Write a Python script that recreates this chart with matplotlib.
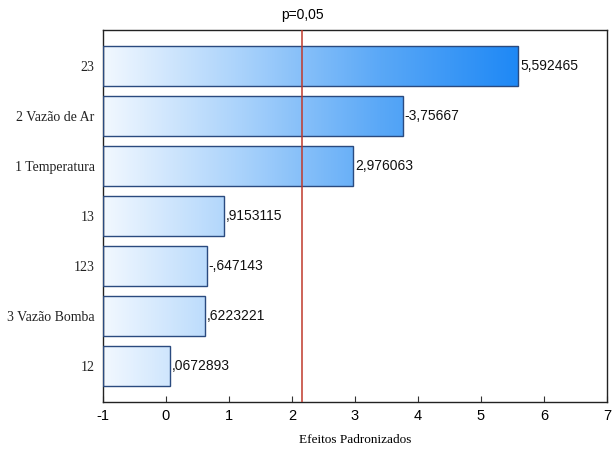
import matplotlib
matplotlib.use("Agg")
import matplotlib.pyplot as plt
import numpy as np
from matplotlib.colors import LinearSegmentedColormap
from matplotlib.patches import Rectangle

categories = ["23", "2 Vazão de Ar", "1 Temperatura", "13", "123", "3 Vazão Bomba", "12"]
effects = [5.592465, -3.75667, 2.976063, 0.9153115, -0.647143, 0.6223221, 0.0672893]
labels = ["5,592465", "-3,75667", "2,976063", ",9153115", "-,647143", ",6223221", ",0672893"]
p_crit = 2.16
xticks = [-1, 0, 1, 2, 3, 4, 5, 6, 7]

fig = plt.figure(figsize=(6.14, 4.5), dpi=100)
ax = fig.add_axes([103/614, 1-402/450, (607-103)/614, (402-30)/450])

xmin, xmax = -1, 7
n = len(categories)
ypos = np.arange(n)[::-1]
cmap = LinearSegmentedColormap.from_list("g", ["#f2f8ff", "#a9d2fb", "#5aa8f7", "#1e88f5"])
grad = np.linspace(0, 1, 256).reshape(1, -1)
gx1 = 5.6

for y, e, lab in zip(ypos, effects, labels):
    w = abs(e)
    h = 0.8
    rect = Rectangle((xmin, y - h/2), w - xmin, h, facecolor="none",
                     edgecolor="#2a4a7f", linewidth=1.0, zorder=3)
    ax.add_patch(rect)
    im = ax.imshow(grad, extent=(xmin, gx1, y - h/2, y + h/2), aspect="auto",
                   cmap=cmap, origin="lower", zorder=2, interpolation="bicubic")
    im.set_clip_path(rect)
    ax.text(w + 0.03, y, lab, va="center", ha="left", fontsize=10,
            family="Liberation Sans", color="#111111", zorder=4)

ax.axvline(p_crit, color="#c0392b", linewidth=1.1, zorder=5)
ax.text(p_crit, 7.03, "p=0,05", ha="center", va="center", fontsize=10,
        family="Liberation Sans", transform=ax.transData, clip_on=False)

ax.set_xlim(xmin, xmax)
ax.set_ylim(-0.73, 6.73)
ax.set_xticks(xticks)
ax.set_xticklabels([str(t) for t in xticks], family="Liberation Sans", fontsize=10.5)
ax.set_yticks(ypos)
ax.set_yticklabels(categories, family="Liberation Serif", fontsize=10, color="#222222")
ax.tick_params(axis="y", length=0, pad=6)
ax.tick_params(axis="x", direction="in", length=4, pad=5, color="#333333")
ax.set_xlabel("Efeitos Padronizados", family="Liberation Serif", fontsize=9.5, labelpad=8)
for s in ax.spines.values():
    s.set_color("#222222")
    s.set_linewidth(1.0)

fig.savefig("out.png", dpi=100)
